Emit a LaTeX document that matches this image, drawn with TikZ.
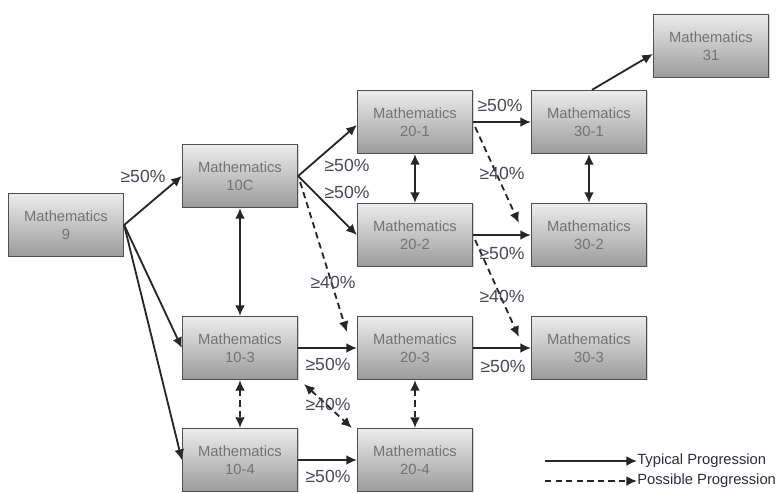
\documentclass[tikz,border=0pt]{standalone}
\usepackage{fontspec}
\setmainfont{Liberation Sans}
\usetikzlibrary{positioning, calc}
\usetikzlibrary{arrows.meta,shapes,shadows}

\begin{document}
\begin{tikzpicture}[x=0.025cm,y=-0.025cm,>={Latex[length=7.5pt,width=7pt]}]
\definecolor{boxtop}{RGB}{236,236,236};
\definecolor{boxbottom}{RGB}{155,155,155};
\definecolor{boxline}{RGB}{80,80,80};
\definecolor{boxtext}{RGB}{115,115,115};
\definecolor{pctext}{RGB}{72,72,82};
\definecolor{legtext}{RGB}{45,45,55};
\useasboundingbox (0,0) rectangle (778,493);
\tikzstyle{course}=[draw=boxline, line width=0.9pt, top color=boxtop, bottom color=boxbottom, minimum width=2.875cm, minimum height=1.575cm, inner sep=0pt, align=center, text=boxtext, font=\fontsize{10.5}{12.8}\selectfont, drop shadow={shadow xshift=0.7pt, shadow yshift=-0.7pt, opacity=0.35}];
\tikzstyle{pct}=[text=pctext, font=\fontsize{12.5}{14}\selectfont, inner sep=0pt];
\tikzstyle{typical}=[->, line width=1.3pt, black!85];
\tikzstyle{possible}=[typical, dash pattern=on 4.5pt off 3pt];
% course boxes
\foreach \name/\x/\y/\lab in {m9/66/225/9, m10c/240/176/10C, m103/240/348/10-3, m104/240/460/10-4,
  m201/415/122/20-1, m202/415/235/20-2, m203/415/348/20-3, m204/415/460/20-4,
  m301/589/122/30-1, m302/589/235/30-2, m303/589/348/30-3, m31/711/46/31}
\node[course] (\name) at (\x,\y) {Mathematics\\\lab};
% typical progression
\draw[typical] (m9.east) -- (m10c.west);
\draw[typical] (m9.east) -- (m103.west);
\draw[typical] (m9.east) -- (m104.west);
\draw[typical] (m10c.east) -- ($(m201.west)+(0,3)$);
\draw[typical] (m10c.east) -- (m202.west);
\draw[typical] (m201.east) -- (m301.west);
\draw[typical] (m202.east) -- (m302.west);
\draw[typical] (m103.east) -- (m203.west);
\draw[typical] (m203.east) -- (m303.west);
\draw[typical] (m104.east) -- (m204.west);
\draw[typical] ($(m301.north)+(3,0)$) -- ($(m31.west)+(0,8)$);
\draw[typical,<->] (m10c.south) -- (m103.north);
\draw[typical,<->] (m201.south) -- (m202.north);
\draw[typical,<->] (m301.south) -- (m302.north);
% possible progression
\draw[possible] ($(m10c.east)+(2,6)$) -- ($(m203.north west)+(-10,16)$);
\draw[possible] ($(m201.east)+(2,5)$) -- ($(m302.north west)+(-12,20)$);
\draw[possible] ($(m202.east)+(2,5)$) -- ($(m303.north west)+(-12,21)$);
\draw[possible,<->] ($(m103.south east)+(6,4)$) -- ($(m204.north west)+(-5,0)$);
\draw[possible,<->] (m103.south) -- (m104.north);
\draw[possible,<->] (m203.south) -- (m204.north);
% percentages
\node[pct] (p1) at (143,176) {≥50\%};
\node[pct] (p2) at (347,165) {≥50\%};
\node[pct] (p3) at (347,192) {≥50\%};
\node[pct] (p4) at (500,105) {≥50\%};
\node[pct] (p5) at (502,173) {≥40\%};
\node[pct] (p6) at (502,253) {≥50\%};
\node[pct] (p7) at (333,282) {≥40\%};
\node[pct] (p8) at (502,296) {≥40\%};
\node[pct] (p9) at (328,364) {≥50\%};
\node[pct] (p10) at (503,366) {≥50\%};
\node[pct] (p11) at (328,404) {≥40\%};
\node[pct] (p12) at (328,476) {≥50\%};
% legend
\tikzstyle{legend}=[text=legtext, font=\fontsize{10.5}{12}\selectfont, inner sep=0pt, anchor=west];
\coordinate (t1) at (545,461);
\coordinate (t2) at (545,481);
\node[legend] (typ) at (637,461) {Typical Progression};
\node[legend] (pos) at (637,481) {Possible Progression};
\draw[typical] (t1) -- (typ.west);
\draw[possible] (t2) -- (pos.west);
\end{tikzpicture}
\end{document}
